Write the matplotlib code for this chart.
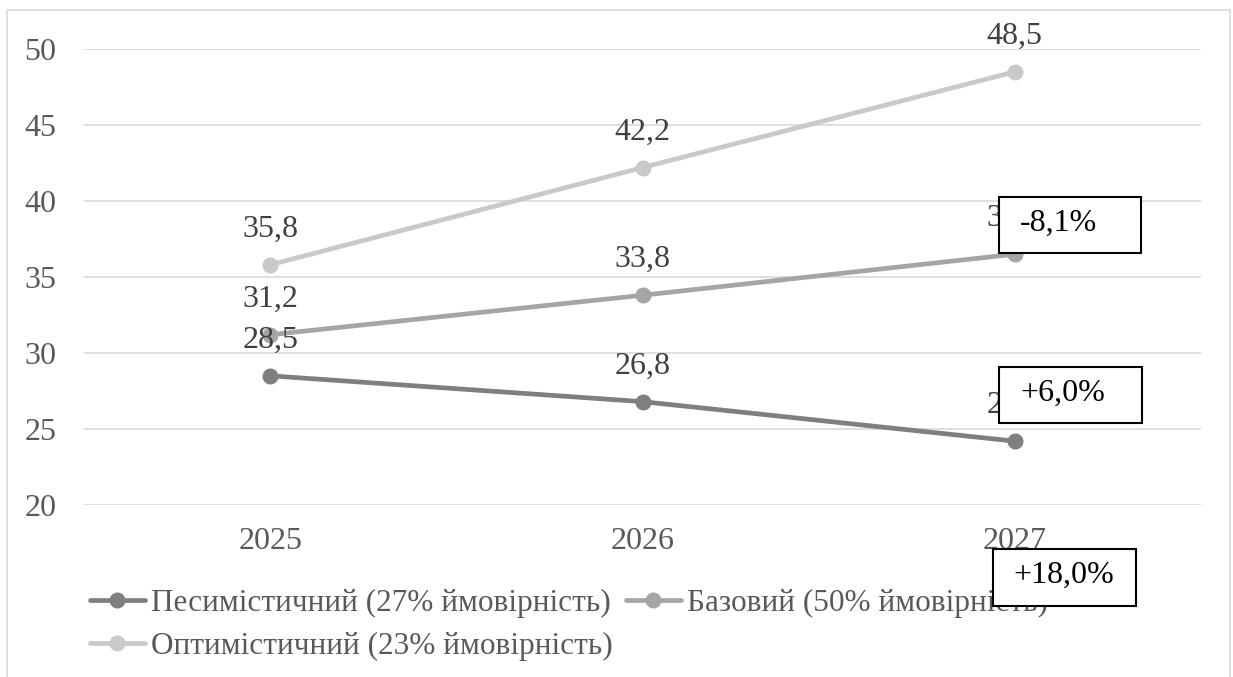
import matplotlib
matplotlib.use("Agg")
import matplotlib.pyplot as plt
from matplotlib.patches import Rectangle

plt.rcParams['font.family'] = ['Liberation Serif', 'DejaVu Serif']

# ---- data ----
years = ["2025", "2026", "2027"]
series_names = [
    "Песимістичний (27% ймовірність)",
    "Базовий (50% ймовірність)",
    "Оптимістичний (23% ймовірність)",
]
pessimistic = [28.5, 26.8, 24.2]
base = [31.2, 33.8, 36.5]
optimistic = [35.8, 42.2, 48.5]
y_ticks = [20, 25, 30, 35, 40, 45, 50]
change_labels = ["-8,1%", "+6,0%", "+18,0%"]

# ---- style ----
colors = ["#7f7f7f", "#a5a5a5", "#c9c9c9"]
FS = 23
W, H = 1233, 677
fig = plt.figure(figsize=(W / 100, H / 100), dpi=100)

def fx(px):
    return px / W

def fy(py):
    return 1 - py / H

# outer chart frame
fig.add_artist(Rectangle((fx(7), fy(720)), fx(1230) - fx(7), fy(10) - fy(720),
                         transform=fig.transFigure, fill=False,
                         edgecolor="#d9d9d9", linewidth=1.2))

ax = fig.add_axes([fx(84), fy(505), fx(1201) - fx(84), fy(49) - fy(505)])
ax.set_xlim(-0.5, len(years) - 0.5)
ax.set_ylim(min(y_ticks), max(y_ticks))
ax.set_yticks(y_ticks)
ax.set_xticks(range(len(years)))
ax.set_xticklabels(years)
for s in ax.spines.values():
    s.set_visible(False)
ax.grid(axis="y", color="#d9d9d9", linewidth=1.2)
ax.set_axisbelow(True)
ax.tick_params(axis="both", length=0, labelsize=FS, labelcolor="#595959")
ax.tick_params(axis="y", pad=20)
ax.tick_params(axis="x", pad=16)

x = list(range(len(years)))
handles = []
for vals, name, c in zip([pessimistic, base, optimistic], series_names, colors):
    h, = ax.plot(x, vals, color=c, linewidth=3.4, marker="o", markersize=10.5,
                 solid_capstyle="round", label=name, zorder=3)
    handles.append(h)
    for xi, v in zip(x, vals):
        ax.annotate(f"{v:.1f}".replace(".", ","), (xi, v), xytext=(0, 25.5),
                    textcoords="offset points", ha="center", va="center",
                    fontsize=FS, color="#404040", zorder=4)

order = [0, 2, 1]
leg = ax.legend([handles[i] for i in order], [series_names[i] for i in order],
                ncol=2, loc="upper left", bbox_to_anchor=(fx(90), fy(589)),
                bbox_transform=fig.transFigure, frameon=False, fontsize=22.5,
                handlelength=1.75, handletextpad=0.2, columnspacing=0.42,
                labelspacing=0.45, borderaxespad=0, borderpad=0)
for t in leg.get_texts():
    t.set_color("#595959")

# change callouts
boxes = [(999, 197, 1141, 253, 1020, "left"),
         (999, 367, 1142, 423, 1020, "left"),
         (993, 549, 1136, 606, 1064, "center")]
for (x0, y0, x1, y1, tx, ha), lab in zip(boxes, change_labels):
    fig.add_artist(Rectangle((fx(x0), fy(y1)), fx(x1) - fx(x0), fy(y0) - fy(y1),
                             transform=fig.transFigure, facecolor="white",
                             edgecolor="black", linewidth=1.5, zorder=10))
    fig.text(fx(tx), fy((y0 + y1) / 2 - 2), lab, ha=ha, va="center",
             fontsize=FS, color="black", zorder=11)

fig.savefig("out.png", dpi=100, facecolor="white")
